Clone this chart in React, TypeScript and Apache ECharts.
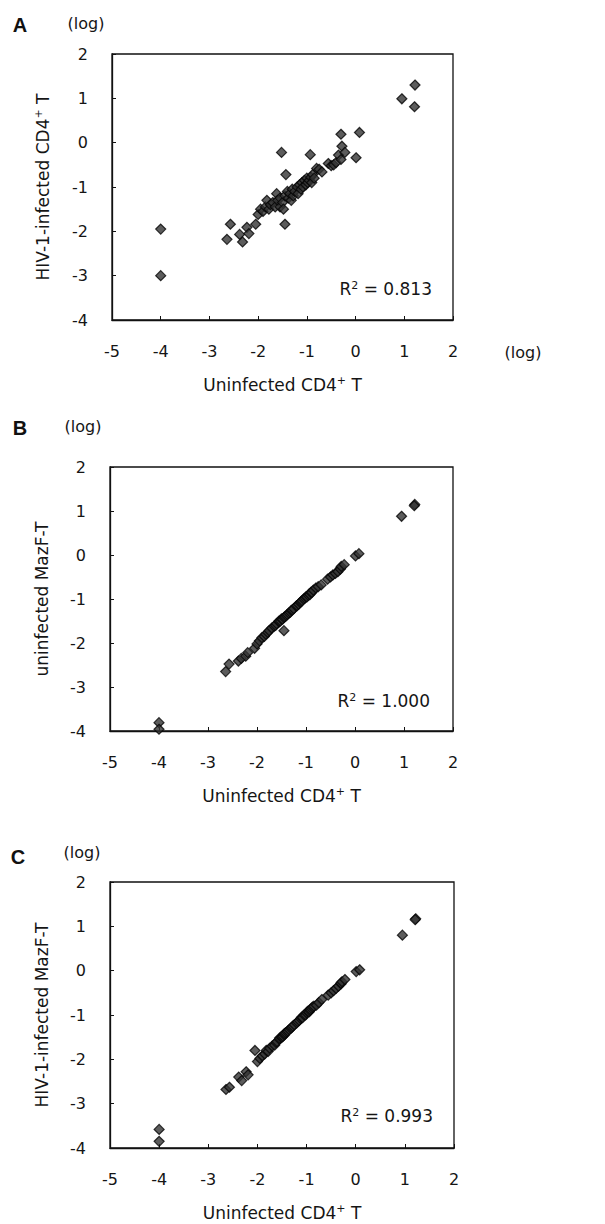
import React, { useEffect, useRef } from "react";
import * as echarts from "echarts";

// Shared x values: Uninfected CD4+ T (log)
const xUninfected = [
  -4.0, -4.0, -2.64, -2.57, -2.38, -2.32, -2.23, -2.19, -2.05, -2.0,
  -1.95, -1.9, -1.85, -1.82, -1.78, -1.75, -1.7, -1.65, -1.62, -1.6,
  -1.55, -1.55, -1.52, -1.5, -1.48, -1.45, -1.45, -1.43, -1.4, -1.38,
  -1.35, -1.32, -1.3, -1.28, -1.25, -1.2, -1.18, -1.15, -1.12, -1.1,
  -1.08, -1.05, -1.02, -1.0, -0.98, -0.95, -0.93, -0.92, -0.9, -0.88,
  -0.85, -0.8, -0.75, -0.69, -0.56, -0.5, -0.45, -0.4, -0.35, -0.3,
  -0.3, -0.28, -0.22, 0.01, 0.08, 0.95, 1.22, 1.21,
];
// Panel A: HIV-1-infected CD4+ T
const yA = [
  -1.95, -3.0, -2.18, -1.84, -2.07, -2.24, -1.91, -2.05, -1.84, -1.62,
  -1.5, -1.55, -1.45, -1.3, -1.5, -1.4, -1.35, -1.45, -1.15, -1.3,
  -1.45, -1.25, -0.22, -1.35, -1.5, -1.84, -1.2, -0.72, -1.1, -1.25,
  -1.15, -1.3, -1.05, -1.2, -1.1, -1.0, -1.15, -0.95, -1.05, -0.9,
  -1.0, -0.85, -0.95, -0.8, -0.9, -0.85, -0.27, -0.78, -0.9, -0.72,
  -0.8, -0.58, -0.6, -0.66, -0.47, -0.52, -0.5, -0.45, -0.28, 0.19,
  -0.38, -0.08, -0.22, -0.34, 0.23, 0.99, 1.3, 0.81,
];
// Panel B: uninfected MazF-T
const yB = [
  -3.81, -3.96, -2.65, -2.48, -2.41, -2.35, -2.3, -2.22, -2.12, -2.02,
  -1.95, -1.88, -1.85, -1.8, -1.76, -1.72, -1.66, -1.62, -1.6, -1.56,
  -1.52, -1.5, -1.5, -1.45, -1.46, -1.72, -1.42, -1.4, -1.38, -1.35,
  -1.32, -1.3, -1.26, -1.25, -1.22, -1.16, -1.15, -1.12, -1.08, -1.06,
  -1.04, -1.0, -0.98, -0.95, -0.95, -0.92, -0.88, -0.9, -0.85, -0.85,
  -0.8, -0.75, -0.72, -0.68, -0.55, -0.5, -0.45, -0.42, -0.38, -0.3,
  -0.32, -0.26, -0.22, -0.02, 0.03, 0.88, 1.15, 1.12,
];
// Panel C: HIV-1-infected MazF-T
const yC = [
  -3.58, -3.85, -2.68, -2.63, -2.4, -2.48, -2.28, -2.35, -1.8, -2.05,
  -1.98, -1.92, -1.88, -1.8, -1.82, -1.75, -1.7, -1.68, -1.62, -1.6,
  -1.55, -1.52, -1.5, -1.5, -1.48, -1.45, -1.42, -1.4, -1.38, -1.36,
  -1.33, -1.3, -1.28, -1.25, -1.22, -1.18, -1.15, -1.12, -1.08, -1.05,
  -1.06, -1.0, -1.0, -0.95, -0.92, -0.93, -0.9, -0.88, -0.85, -0.82,
  -0.8, -0.78, -0.72, -0.65, -0.55, -0.5, -0.45, -0.4, -0.35, -0.3,
  -0.28, -0.25, -0.2, -0.02, 0.02, 0.8, 1.17, 1.15,
];

const panelLetters = ["A", "B", "C"];
const yTitles = [
  "HIV-1-infected CD4{sup|+} T",
  "uninfected MazF-T",
  "HIV-1-infected MazF-T",
];
const xTitle = "Uninfected CD4{sup|+} T";
const r2Labels = ["0.813", "1.000", "0.993"];

const FONT = "DejaVu Sans";
const TXT = "#151515";

const grids = [
  { left: 112, top: 54, width: 341, height: 266 },
  { left: 110, top: 467, width: 343, height: 264 },
  { left: 110, top: 882, width: 344, height: 266 },
];

const supStyle = { fontSize: 11, fontFamily: FONT, color: TXT, padding: [0, 0, 8, 0] };

export default function App() {
  const ref = useRef<HTMLDivElement>(null);
  useEffect(() => {
    if (!ref.current) return;
    const chart = echarts.init(ref.current, undefined, { renderer: "svg" });
    const ys = [yA, yB, yC];

    const xAxes = grids.map((_, i) => ({
      type: "value",
      gridIndex: i,
      min: -5,
      max: 2,
      interval: 1,
      name: xTitle,
      nameLocation: "middle",
      nameGap: 55,
      nameTextStyle: { fontSize: 17, fontFamily: FONT, color: TXT, rich: { sup: supStyle } },
      axisLine: { show: true, onZero: false, lineStyle: { color: "#111", width: 1.3 } },
      axisTick: { show: true, inside: true, length: 4, lineStyle: { color: "#111" } },
      axisLabel: { fontSize: 16, fontFamily: FONT, color: TXT, margin: 23 },
      splitLine: { show: false },
    }));
    const yAxes = grids.map((_, i) => ({
      type: "value",
      gridIndex: i,
      min: -4,
      max: 2,
      interval: 1,
      name: yTitles[i],
      nameLocation: "middle",
      nameGap: 60,
      nameRotate: 90,
      nameTextStyle: { fontSize: 17, fontFamily: FONT, color: TXT, rich: { sup: supStyle } },
      axisLine: { show: true, onZero: false, lineStyle: { color: "#111", width: 1.3 } },
      axisTick: { show: true, inside: true, length: 4, lineStyle: { color: "#111" } },
      axisLabel: { fontSize: 16, fontFamily: FONT, color: TXT, margin: 24 },
      splitLine: { show: false },
    }));

    const series = ys.map((y, i) => ({
      type: "scatter",
      xAxisIndex: i,
      yAxisIndex: i,
      symbol: "diamond",
      symbolSize: 10,
      itemStyle: { color: "#333333", borderColor: "#050505", borderWidth: 1.2 },
      data: xUninfected.map((x, k) => [x, y[k]]),
    }));

    const graphics: any[] = [];
    const letterPos = [
      [20, 25],
      [20, 428],
      [18, 857],
    ];
    const logPos = [
      [86, 23],
      [83, 426],
      [82, 852],
    ];
    const r2Pos = [
      [432, 289],
      [430, 701],
      [433, 1116],
    ];
    for (let i = 0; i < 3; i++) {
      graphics.push({
        type: "text",
        x: letterPos[i][0],
        y: letterPos[i][1],
        style: {
          text: panelLetters[i],
          font: `bold 20px "Liberation Sans"`,
          fill: "#111",
          align: "center",
          verticalAlign: "middle",
        },
      });
      graphics.push({
        type: "text",
        x: logPos[i][0],
        y: logPos[i][1],
        style: {
          text: "(log)",
          fontSize: 16,
          fontFamily: FONT,
          fill: TXT,
          align: "center",
          verticalAlign: "middle",
        },
      });
      graphics.push({
        type: "text",
        x: r2Pos[i][0],
        y: r2Pos[i][1],
        style: {
          text: `R{sup|2} = ${r2Labels[i]}`,
          fontSize: 17,
          fontFamily: FONT,
          fill: TXT,
          align: "right",
          verticalAlign: "middle",
          rich: { sup: { fontSize: 11, fontFamily: FONT, fill: TXT, padding: [0, 0, 8, 0] } },
        },
      });
    }
    graphics.push({
      type: "text",
      x: 523,
      y: 352,
      style: {
        text: "(log)",
        fontSize: 16,
        fontFamily: FONT,
        fill: TXT,
        align: "center",
        verticalAlign: "middle",
      },
    });

    chart.setOption({
      animation: false,
      backgroundColor: "#ffffff",
      grid: grids.map((g) => ({
        ...g,
        show: true,
        borderColor: "#111",
        borderWidth: 1.3,
        backgroundColor: "transparent",
      })),
      xAxis: xAxes,
      yAxis: yAxes,
      series,
      graphic: graphics,
    });
    return () => chart.dispose();
  }, []);
  return (
    <div
      ref={ref}
      style={{ position: "absolute", left: 0, top: 0, width: 605, height: 1224 }}
    />
  );
}
